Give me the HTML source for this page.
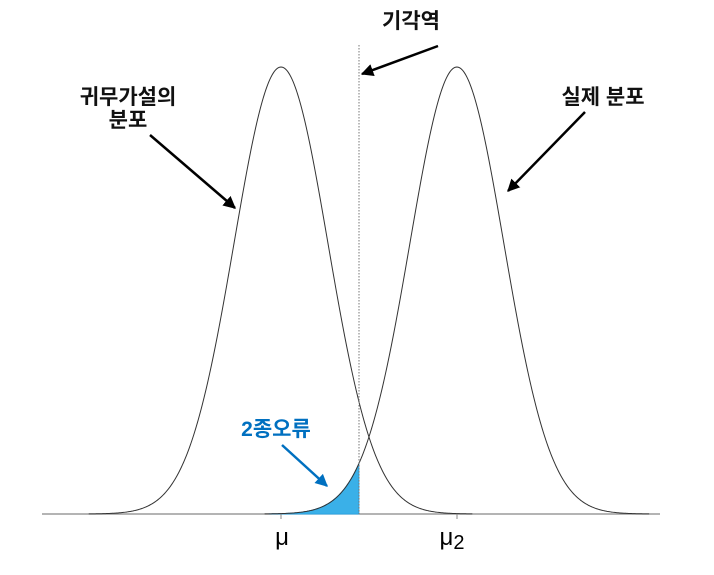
<!DOCTYPE html>
<html><head><meta charset="utf-8"><style>
html,body{margin:0;padding:0;background:#fff;}
svg{display:block;font-family:"Liberation Sans","Noto Sans CJK KR",sans-serif;}
.lbl{font-size:21px;font-weight:bold;fill:#111;}
</style></head><body>
<svg id="chart" width="714" height="575" viewBox="0 0 714 575">
<defs>
<marker id="ah" viewBox="0 0 10 10" refX="9" refY="5" markerWidth="5" markerHeight="5" orient="auto"><path d="M0,0L10,5L0,10z" fill="#000"/></marker>
<marker id="ahb" viewBox="0 0 10 10" refX="9" refY="5" markerWidth="5" markerHeight="5" orient="auto"><path d="M0,0L10,5L0,10z" fill="#0070c0"/></marker>
</defs>
<line x1="42" y1="514" x2="660" y2="514" stroke="#888" stroke-width="1.3"/>
<g id="marks"></g>
<line x1="359" y1="45" x2="359" y2="514" stroke="#777" stroke-width="1" stroke-dasharray="1.5,1.5"/>
<text x="282" y="545" font-size="24" text-anchor="middle">μ</text>
<text x="452" y="545" font-size="24" text-anchor="middle">μ<tspan font-size="20" dy="4">2</tspan></text>
<text class="lbl" x="411" y="28" text-anchor="middle">기각역</text>
<line x1="438" y1="46" x2="362" y2="74" stroke="#000" stroke-width="2.5" marker-end="url(#ah)"/>
<text class="lbl" x="128" y="104" text-anchor="middle">귀무가설의</text>
<text class="lbl" x="128" y="127" text-anchor="middle">분포</text>
<line x1="150" y1="135" x2="235" y2="208" stroke="#000" stroke-width="2.5" marker-end="url(#ah)"/>
<text class="lbl" x="603" y="104" text-anchor="middle">실제 분포</text>
<line x1="585" y1="112" x2="508" y2="191" stroke="#000" stroke-width="2.5" marker-end="url(#ah)"/>
<text x="276" y="436" font-size="21" font-weight="bold" fill="#0070c0" text-anchor="middle">2종오류</text>
<line x1="282" y1="445" x2="327" y2="486" stroke="#0070c0" stroke-width="2.5" marker-end="url(#ahb)"/>
<line x1="281" y1="514" x2="281" y2="519" stroke="#888"/>
<line x1="457" y1="514" x2="457" y2="519" stroke="#888"/>
</svg>
<script>
const means = [0, 3.75];
const sigma = [1, 1];
const critical = [1.66];
const xDomain = [-4, 9];
function sx(v){ return 281 + v*46.9; }
function sy(d){ return 514 - d*447; }
const g = document.getElementById('marks');
const ns = 'http://www.w3.org/2000/svg';
function dens(x,m,s){ return Math.exp(-(x-m)*(x-m)/(2*s*s)); }
let pts = [];
for (let x = means[1]-4*sigma[1]; x <= critical[0]; x += 0.02) pts.push(sx(x)+','+sy(dens(x,means[1],sigma[1])));
pts.push(sx(critical[0])+','+sy(dens(critical[0],means[1],sigma[1])));
pts.push(sx(critical[0])+','+sy(0));
pts.push(sx(means[1]-4*sigma[1])+','+sy(0));
const poly = document.createElementNS(ns,'polygon');
poly.setAttribute('points', pts.join(' '));
poly.setAttribute('fill', '#3ab0e8');
poly.setAttribute('stroke', '#2aa5e5');


g.appendChild(poly);
means.forEach((m,i)=>{
  let d = '';
  for (let x = m-4.1*sigma[i]; x <= m+4.1*sigma[i]; x += 0.02) d += (d?'L':'M') + sx(x).toFixed(2) + ',' + sy(dens(x,m,sigma[i])).toFixed(2);
  const p = document.createElementNS(ns,'path');
  p.setAttribute('d', d);
  p.setAttribute('fill', 'none');
  p.setAttribute('stroke', '#333');
  p.setAttribute('stroke-width', '1');
  
  
  g.appendChild(p);
});
</script>
</body></html>
